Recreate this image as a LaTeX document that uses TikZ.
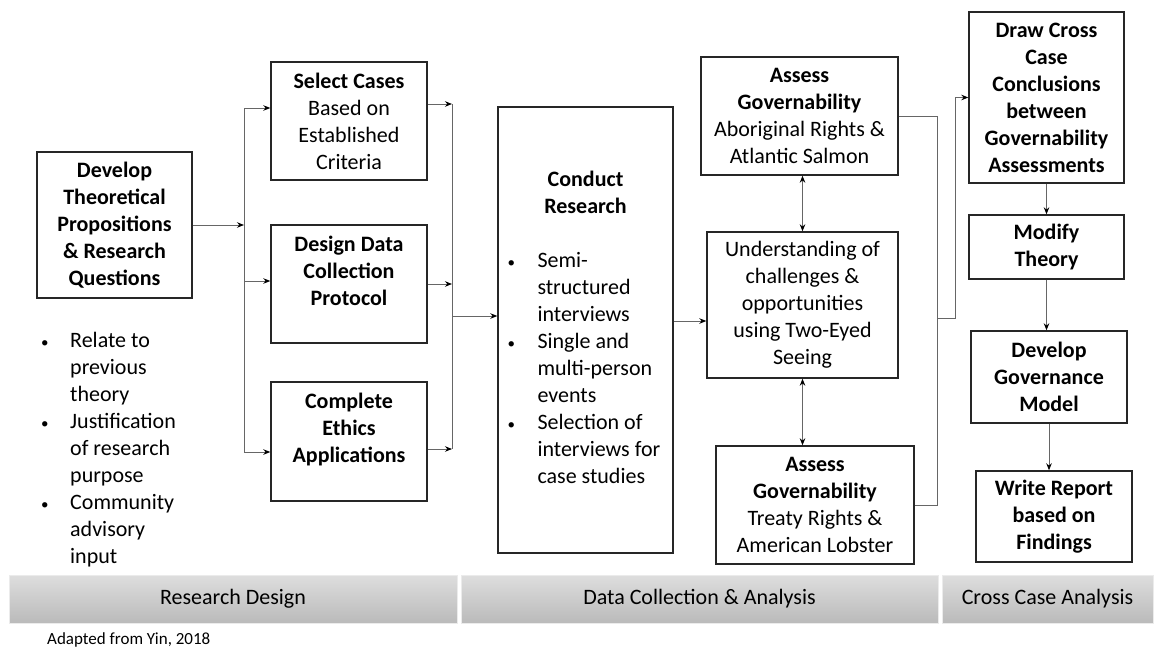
\documentclass[tikz,border=0pt]{standalone}
\usepackage{fontspec}
\setmainfont{Carlito}
\usetikzlibrary{positioning,arrows.meta}
\newcommand{\smallbul}{{\fontsize{15}{15}\selectfont\textbullet}}

\begin{document}
\begin{tikzpicture}[x=1pt,y=-1pt,>={Stealth[length=7pt,width=5.5pt,color=black]},
    every node/.style={font=\fontsize{22}{27}\selectfont,inner sep=0pt},
    box/.style={draw=black!85,line width=1.4pt,align=center},
    band/.style={draw=black!8,top color=black!13,bottom color=black!27,minimum height=48pt},
    link/.style={draw=black!60,line width=0.9pt}]
  \useasboundingbox (0,0) rectangle (1155,650);

  % research design
  \node[box,minimum width=155pt,minimum height=146pt] (dev) at (114.5,225)
    {\textbf{Develop}\\\textbf{Theoretical}\\\textbf{Propositions}\\\textbf{\& Research}\\\textbf{Questions}};
  \node[anchor=base west] (why) at (41,347) {\begin{tabular}[t]{@{}p{29pt}@{}l@{}}
      \smallbul & Relate to\\ & previous\\ & theory\\
      \smallbul & Justification\\ & of research\\ & purpose\\
      \smallbul & Community\\ & advisory\\ & input
    \end{tabular}};
  \node[box,minimum width=156pt,minimum height=118pt] (sel) at (349,121)
    {\textbf{Select Cases}\\Based on\\Established\\Criteria};
  \node[box,minimum width=156pt,minimum height=118pt] (des) at (349,284)
    {\textbf{Design Data}\\\textbf{Collection}\\\textbf{Protocol}\\\mbox{}};
  \node[box,minimum width=156pt,minimum height=119pt] (com) at (349,441.5)
    {\textbf{Complete}\\\textbf{Ethics}\\\textbf{Applications}\\\mbox{}};

  % data collection
  \node[box,minimum width=175pt,minimum height=446pt] (con) at (585.5,330)
    {\begin{tabular}{@{}p{30pt}@{}p{126pt}@{}}
      \multicolumn{2}{@{}c@{}}{\textbf{Conduct}}\\
      \multicolumn{2}{@{}c@{}}{\textbf{Research}}\\
      & \\
      \smallbul & Semi-\\ & structured\\ & interviews\\
      \smallbul & Single and\\ & multi-person\\ & events\\
      \smallbul & Selection of\\ & interviews for\\ & case studies
    \end{tabular}};
  \node[box,minimum width=197pt,minimum height=118pt] (asA) at (799.5,116)
    {\textbf{Assess}\\\textbf{Governability}\\Aboriginal Rights \&\\Atlantic Salmon};
  \node[box,minimum width=191pt,minimum height=146pt] (und) at (802.5,305)
    {Understanding of\\challenges \&\\opportunities\\using Two-Eyed\\Seeing};
  \node[box,minimum width=198pt,minimum height=118pt] (asT) at (815,505)
    {\textbf{Assess}\\\textbf{Governability}\\Treaty Rights \&\\American Lobster};

  % cross case
  \node[box,minimum width=155pt,minimum height=171pt] (drw) at (1046.5,97.5)
    {\textbf{Draw Cross}\\\textbf{Case}\\\textbf{Conclusions}\\\textbf{between}\\\textbf{Governability}\\\textbf{Assessments}};
  \node[box,minimum width=155pt,minimum height=64pt] (mod) at (1046.5,247)
    {\textbf{Modify}\\\textbf{Theory}};
  \node[box,minimum width=156pt,minimum height=92pt] (dgm) at (1049,377)
    {\textbf{Develop}\\\textbf{Governance}\\\textbf{Model}};
  \node[box,minimum width=156pt,minimum height=91pt] (wrt) at (1054,516.5)
    {\textbf{Write Report}\\\textbf{based on}\\\textbf{Findings}};

  % phases
  \node[band,minimum width=448pt] (rd) at (233,599) {Research Design};
  \node[band,minimum width=477pt] (dca) at (699.5,599) {Data Collection \& Analysis};
  \node[band,minimum width=211pt] (cca) at (1047.5,599) {Cross Case Analysis};
  \node[anchor=west,font=\fontsize{17}{20}\selectfont] (src) at (47,640) {Adapted from Yin, 2018};

  \coordinate (jL) at (244,225);
  \coordinate (jR) at (452,316);
  \coordinate (jM) at (937,318);
  \coordinate (jN) at (955,318);

  \draw[link,->] (dev.east) -- (jL);
  \draw[link,->] (jL) |- ([yshift=13pt]sel.west);
  \draw[link,->] (jL) |- ([yshift=3pt]des.west);
  \draw[link,->] (jL) |- ([yshift=-10.5pt]com.west);

  \draw[link,->] ([yshift=17pt]sel.east) -- ([yshift=17pt]sel.east -| jR);
  \draw[link,->] (des.east) -- (des.east -| jR);
  \draw[link,->] ([yshift=-7.5pt]com.east) -- ([yshift=-7.5pt]com.east -| jR);
  \draw[link] ([yshift=17pt]sel.east -| jR) -- ([yshift=-7.5pt]com.east -| jR);
  \draw[link,->] (jR) -- (jR -| con.west);

  \draw[link,->] ([yshift=9pt]con.east) -- ([yshift=9pt]con.east -| und.west);
  \draw[link,<->] (und.north) -- (und.north |- asA.south);
  \draw[link,<->] (und.south) -- (und.south |- asT.north);
  \draw[link] (asA.east) -| (jM) |- (asT.east);
  \draw[link,->] (jM) -- (jN) |- (drw.west);

  \draw[link,->] (drw.south) -- (drw.south |- mod.north);
  \draw[link,->] (mod.south) -- (mod.south |- dgm.north);
  \draw[link,->] (dgm.south) -- (dgm.south |- wrt.north);
\end{tikzpicture}
\end{document}
